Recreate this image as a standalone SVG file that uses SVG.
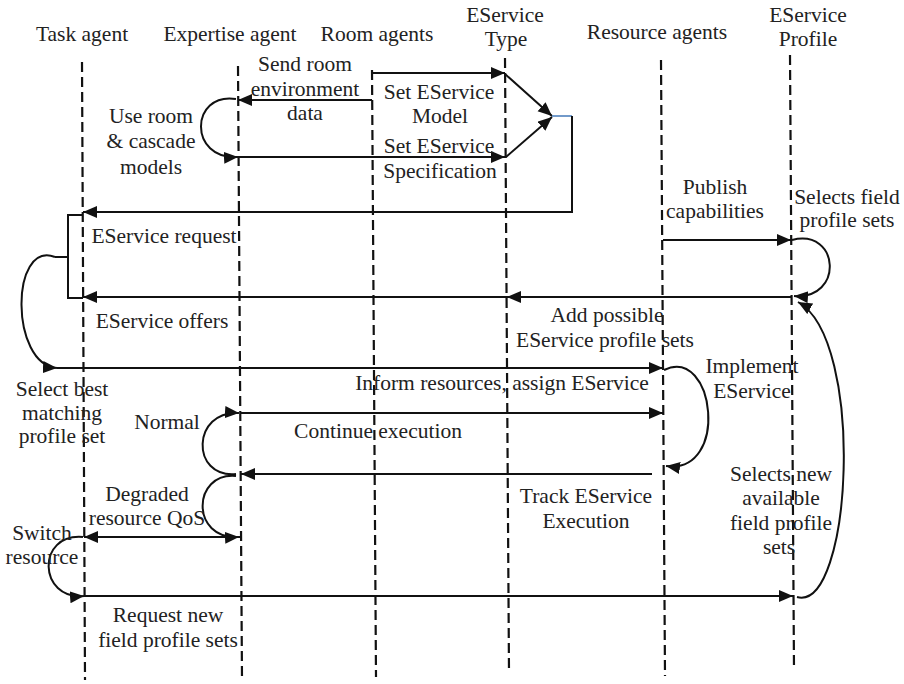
<svg xmlns="http://www.w3.org/2000/svg" width="904" height="684" viewBox="0 0 904 684">
  <defs>
    <marker id="ah" markerUnits="userSpaceOnUse" markerWidth="16" markerHeight="14" refX="14" refY="6" orient="auto">
      <path d="M0,0 L14,6 L0,12 z" fill="#111"/>
    </marker>
    <style>
      text { font-family: "Liberation Serif", "Times New Roman", serif; font-size: 21.5px; fill: #222; text-anchor: middle; }
      .life { stroke: #111; stroke-width: 2.2; stroke-dasharray: 10 5; fill: none; }
      .msg { stroke: #111; stroke-width: 2; fill: none; }
      .arr { marker-end: url(#ah); }
    </style>
  </defs>
  <rect width="904" height="684" fill="#fff"/>

  <!-- lifelines with their headers -->
  <g id="task-agent">
    <text x="82" y="41">Task agent</text>
    <line class="life" x1="82" y1="62" x2="85" y2="680"/>
  </g>
  <g id="expertise-agent">
    <text x="230" y="41">Expertise agent</text>
    <line class="life" x1="238" y1="66" x2="242" y2="680"/>
  </g>
  <g id="room-agents">
    <text x="377" y="41">Room agents</text>
    <line class="life" x1="372" y1="70" x2="376" y2="677"/>
  </g>
  <g id="eservice-type">
    <text x="505" y="22">EService</text>
    <text x="506" y="46">Type</text>
    <line class="life" x1="505" y1="58" x2="509" y2="673"/>
  </g>
  <g id="resource-agents">
    <text x="657" y="39">Resource agents</text>
    <line class="life" x1="661" y1="60" x2="665" y2="676"/>
  </g>
  <g id="eservice-profile">
    <text x="808" y="22">EService</text>
    <text x="808" y="46">Profile</text>
    <line class="life" x1="790" y1="55" x2="794" y2="670"/>
  </g>

  <!-- messages and self-loops -->
  <g id="connectors">
    <path class="msg arr" d="M372,73 L505,73"/>
    <path class="msg arr" d="M372,100 L238,100"/>
    <path class="msg arr" d="M236,99 C190,92 188,160 238,157"/>
    <path class="msg arr" d="M238,157 L505,157"/>
    <path class="msg arr" d="M505,74 L552,116"/>
    <path class="msg arr" d="M506,157 L552,117"/>
    <path d="M552,116 L572,116" stroke="#4f81bd" stroke-width="1.6" fill="none"/>
    <path class="msg arr" d="M572,116 L572,212 L83,212"/>
    <path class="msg arr" d="M663,240 L791,240"/>
    <path class="msg arr" d="M792,240 C840,228 844,300 794,296"/>
    <path class="msg arr" d="M791,297 L507,297"/>
    <path class="msg arr" d="M507,297 L83,297"/>
    <path class="msg" d="M83,215 L68,215 L68,298 L83,298 M68,257 L55,257"/>
    <path class="msg arr" d="M55,257 C10,240 10,365 57,368"/>
    <path class="msg arr" d="M57,368 L663,368"/>
    <path class="msg arr" d="M664,370 C715,345 730,475 666,466"/>
    <path class="msg arr" d="M236,474 C190,478 192,410 239,413"/>
    <path class="msg arr" d="M240,413 L663,413"/>
    <path class="msg arr" d="M652,474 L241,474"/>
    <path class="msg arr" d="M236,476 C192,472 190,540 239,537"/>
    <path class="msg arr" d="M241,537 L84,537"/>
    <path class="msg arr" d="M83,537 C36,533 38,600 84,596"/>
    <path class="msg arr" d="M84,596 L793,596"/>
    <path class="msg arr" d="M797,597 C852,612 866,340 798,302"/>
  </g>

  <!-- message labels -->
  <g id="labels">
    <text x="305" y="71">Send room</text>
    <text x="305" y="96">environment</text>
    <text x="305" y="120">data</text>
    <text x="151" y="123">Use room</text>
    <text x="151" y="148">&amp; cascade</text>
    <text x="151" y="174">models</text>
    <text x="439" y="99">Set EService</text>
    <text x="440" y="123">Model</text>
    <text x="439" y="153">Set EService</text>
    <text x="440" y="178">Specification</text>
    <text x="715" y="194">Publish</text>
    <text x="715" y="218">capabilities</text>
    <text x="847" y="204">Selects field</text>
    <text x="847" y="227">profile sets</text>
    <text x="164" y="243">EService request</text>
    <text x="162" y="328">EService offers</text>
    <text x="607" y="322">Add possible</text>
    <text x="605" y="347">EService profile sets</text>
    <text x="62" y="396">Select best</text>
    <text x="62" y="420">matching</text>
    <text x="62" y="443">profile set</text>
    <text x="502" y="390">Inform resources, assign EService</text>
    <text x="752" y="373">Implement</text>
    <text x="752" y="398">EService</text>
    <text x="167" y="429">Normal</text>
    <text x="378" y="438">Continue execution</text>
    <text x="586" y="503">Track EService</text>
    <text x="586" y="528">Execution</text>
    <text x="147" y="501">Degraded</text>
    <text x="147" y="525">resource QoS</text>
    <text x="42" y="540">Switch</text>
    <text x="42" y="564">resource</text>
    <text x="781" y="481">Selects new</text>
    <text x="781" y="505">available</text>
    <text x="781" y="530">field profile</text>
    <text x="779" y="554">sets</text>
    <text x="168" y="622">Request new</text>
    <text x="168" y="647">field profile sets</text>
  </g>
</svg>
